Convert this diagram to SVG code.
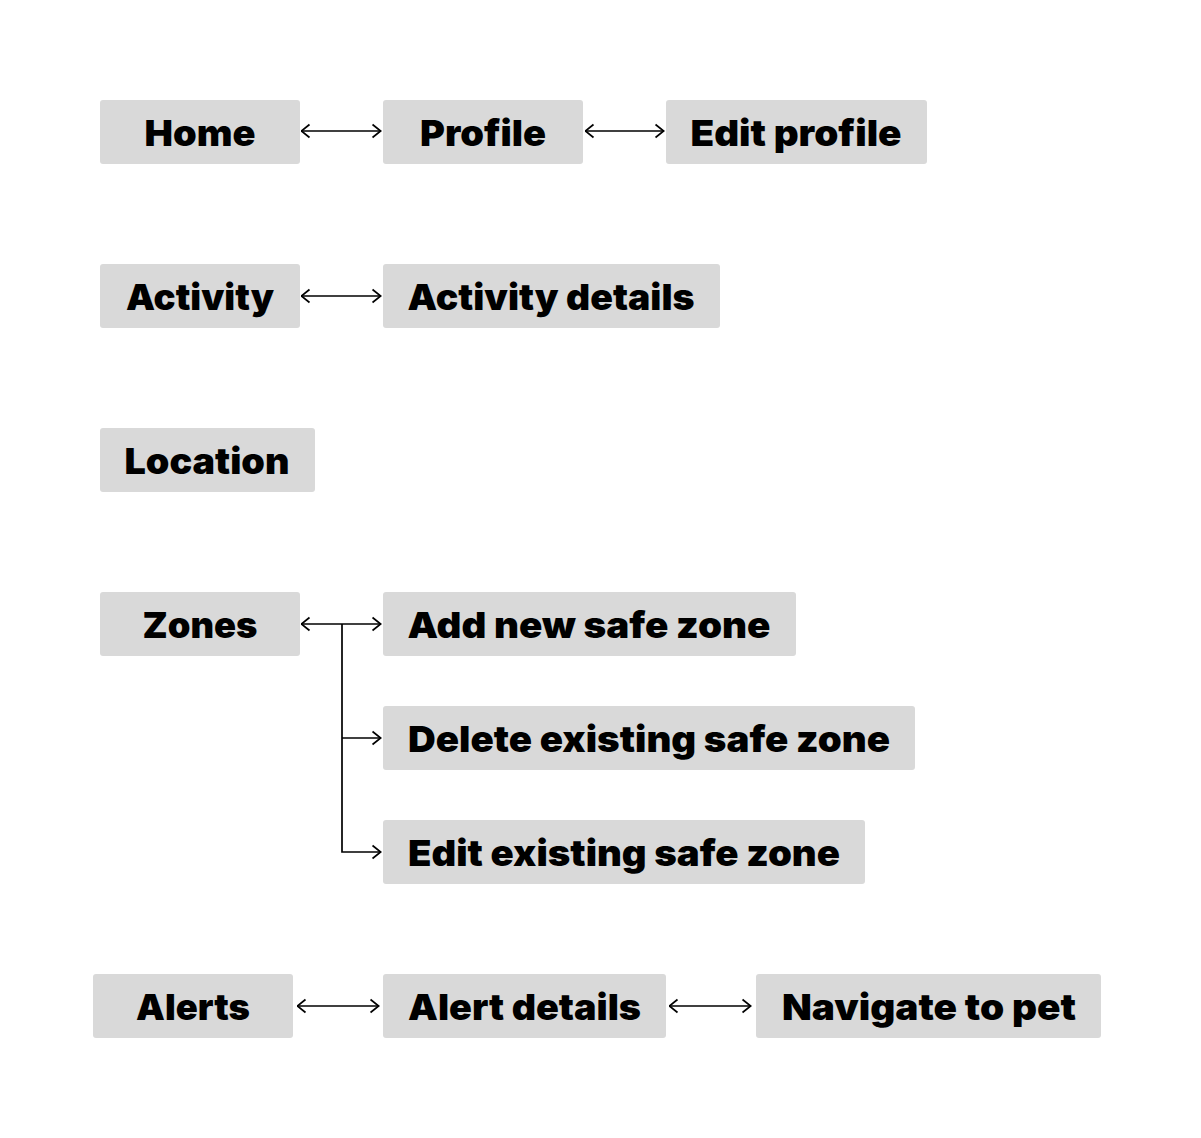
<svg xmlns="http://www.w3.org/2000/svg" width="1201" height="1138" viewBox="0 0 1201 1138">
<style>
.box{fill:#d9d9d9}
.lbl{font-family:Inter,"Liberation Sans",sans-serif;font-weight:900;font-size:36px;fill:#000;text-anchor:middle}
.ln{fill:none;stroke:#000;stroke-width:1.7}
</style>
<defs>
<marker id="ah" viewBox="0 0 10 16" refX="9.5" refY="8" markerWidth="10" markerHeight="16" markerUnits="userSpaceOnUse" orient="auto-start-reverse">
<path d="M1,1.5 L9.2,8 L1,14.5" fill="none" stroke="#000" stroke-width="1.7"/>
</marker>
</defs>
<rect width="1201" height="1138" fill="#fff"/>
<g id="connectors">
<line class="ln" x1="301" y1="131" x2="381" y2="131" marker-start="url(#ah)" marker-end="url(#ah)"/>
<line class="ln" x1="585" y1="131" x2="664" y2="131" marker-start="url(#ah)" marker-end="url(#ah)"/>
<line class="ln" x1="301" y1="296" x2="381" y2="296" marker-start="url(#ah)" marker-end="url(#ah)"/>
<line class="ln" x1="301" y1="624" x2="381" y2="624" marker-start="url(#ah)" marker-end="url(#ah)"/>
<path class="ln" d="M342,624 V852 H381" marker-end="url(#ah)"/>
<line class="ln" x1="342" y1="738" x2="381" y2="738" marker-end="url(#ah)"/>
<line class="ln" x1="297" y1="1006" x2="379" y2="1006" marker-start="url(#ah)" marker-end="url(#ah)"/>
<line class="ln" x1="669" y1="1006" x2="751" y2="1006" marker-start="url(#ah)" marker-end="url(#ah)"/>
</g>
<g id="home"><rect class="box" x="100" y="100" width="200" height="64" rx="3"/><text class="lbl" x="200" y="146" textLength="111" lengthAdjust="spacingAndGlyphs">Home</text></g>
<g id="profile"><rect class="box" x="383" y="100" width="200" height="64" rx="3"/><text class="lbl" x="483" y="146" textLength="126" lengthAdjust="spacingAndGlyphs">Profile</text></g>
<g id="edit-profile"><rect class="box" x="666" y="100" width="261" height="64" rx="3"/><text class="lbl" x="796" y="146" textLength="211" lengthAdjust="spacingAndGlyphs">Edit profile</text></g>
<g id="activity"><rect class="box" x="100" y="264" width="200" height="64" rx="3"/><text class="lbl" x="200" y="310" textLength="148" lengthAdjust="spacingAndGlyphs">Activity</text></g>
<g id="activity-details"><rect class="box" x="383" y="264" width="337" height="64" rx="3"/><text class="lbl" x="551" y="310" textLength="287" lengthAdjust="spacingAndGlyphs">Activity details</text></g>
<g id="location"><rect class="box" x="100" y="428" width="215" height="64" rx="3"/><text class="lbl" x="207" y="474" textLength="165" lengthAdjust="spacingAndGlyphs">Location</text></g>
<g id="zones"><rect class="box" x="100" y="592" width="200" height="64" rx="3"/><text class="lbl" x="200" y="638" textLength="115" lengthAdjust="spacingAndGlyphs">Zones</text></g>
<g id="add-zone"><rect class="box" x="383" y="592" width="413" height="64" rx="3"/><text class="lbl" x="589" y="638" textLength="363" lengthAdjust="spacingAndGlyphs">Add new safe zone</text></g>
<g id="delete-zone"><rect class="box" x="383" y="706" width="532" height="64" rx="3"/><text class="lbl" x="649" y="752" textLength="482" lengthAdjust="spacingAndGlyphs">Delete existing safe zone</text></g>
<g id="edit-zone"><rect class="box" x="383" y="820" width="482" height="64" rx="3"/><text class="lbl" x="624" y="866" textLength="432" lengthAdjust="spacingAndGlyphs">Edit existing safe zone</text></g>
<g id="alerts"><rect class="box" x="93" y="974" width="200" height="64" rx="3"/><text class="lbl" x="193" y="1020" textLength="114" lengthAdjust="spacingAndGlyphs">Alerts</text></g>
<g id="alert-details"><rect class="box" x="383" y="974" width="283" height="64" rx="3"/><text class="lbl" x="524.5" y="1020" textLength="233" lengthAdjust="spacingAndGlyphs">Alert details</text></g>
<g id="navigate"><rect class="box" x="756" y="974" width="345" height="64" rx="3"/><text class="lbl" x="929" y="1020" textLength="294" lengthAdjust="spacingAndGlyphs">Navigate to pet</text></g>
</svg>
